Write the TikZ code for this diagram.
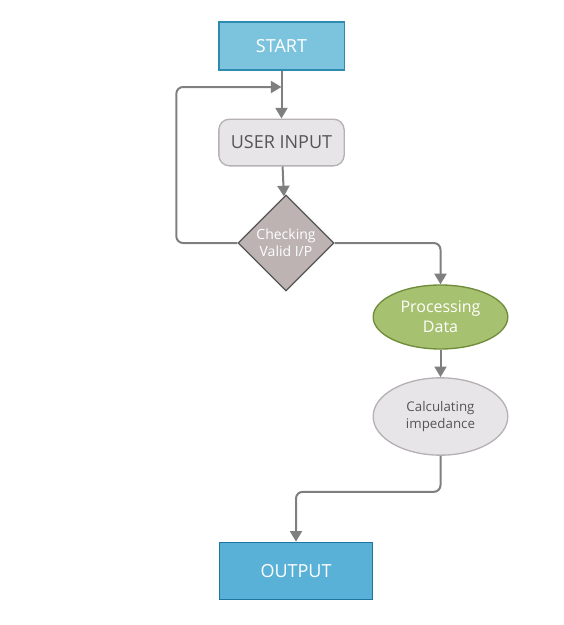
\documentclass[tikz,border=0pt]{standalone}
\usepackage{fontspec}
\setmainfont{Open Sans}
\usetikzlibrary{shapes.geometric, arrows.meta}

\definecolor{startblue}{HTML}{7CC4DE}
\definecolor{startedge}{HTML}{2E8AAE}
\definecolor{outblue}{HTML}{5AB1D7}
\definecolor{outedge}{HTML}{1C76A0}
\definecolor{lightgray}{HTML}{E8E5E8}
\definecolor{lightedge}{HTML}{B5B1B5}
\definecolor{diagray}{HTML}{BCB3B2}
\definecolor{diaedge}{HTML}{555555}
\definecolor{procgreen}{HTML}{A6C16F}
\definecolor{procedge}{HTML}{6E8C3A}
\definecolor{linegray}{HTML}{7F7F7F}
\definecolor{textgray}{HTML}{555555}

\begin{document}
\begin{tikzpicture}[x=0.75pt, y=-0.75pt,
  box/.style={rectangle, minimum width=94pt, minimum height=36pt, line width=1pt, text=white, font=\fontsize{13.5}{15}\selectfont},
  flow/.style={draw=linegray, line width=1.5pt, -{Triangle[width=9pt,length=8pt]}, rounded corners=5pt}]
\useasboundingbox (0,0) rectangle (564,625);

% Start and input
\node[box, fill=startblue, draw=startedge] (start) at (281.5,46) {START};
\node[box, fill=lightgray, draw=lightedge, rounded corners=8pt, text=textgray,
  minimum height=35pt] (input) at (281.5,142.5) {USER INPUT};

% Check
\node[diamond, fill=diagray, draw=diaedge, line width=1pt, minimum width=72pt, minimum height=72pt,
  inner sep=0pt, align=center, text=white, font=\fontsize{10.5}{12.5}\selectfont] (check) at (286,243) {Checking\\Valid I/P};

% Processing
\node[ellipse, fill=procgreen, draw=procedge, line width=1pt, minimum width=101pt, minimum height=48pt,
  align=center, text=white, font=\fontsize{12}{15}\selectfont] (proc) at (440.5,317) {Processing\\Data};
\node[ellipse, fill=lightgray, draw=lightedge, line width=1pt, minimum width=101pt, minimum height=58pt,
  align=center, text=textgray, font=\fontsize{10}{13}\selectfont] (calc) at (440.5,416.5) {Calculating\\impedance};

% Output
\node[box, fill=outblue, draw=outedge, minimum width=115pt, minimum height=43pt] (output) at (296,571) {OUTPUT};

% Loop back
\coordinate (loop) at (281.5,87);

\draw[flow] (start) -- (input);
\draw[flow] (check.west) -- ++(-61,0) |- (loop);
\draw[flow] (input) -- (check);
\draw[flow] (check.east) -| (proc.north);
\draw[flow] (proc) -- (calc);
\draw[flow] (calc.south) -- ++(0,36) -| (output.north);
\end{tikzpicture}
\end{document}
